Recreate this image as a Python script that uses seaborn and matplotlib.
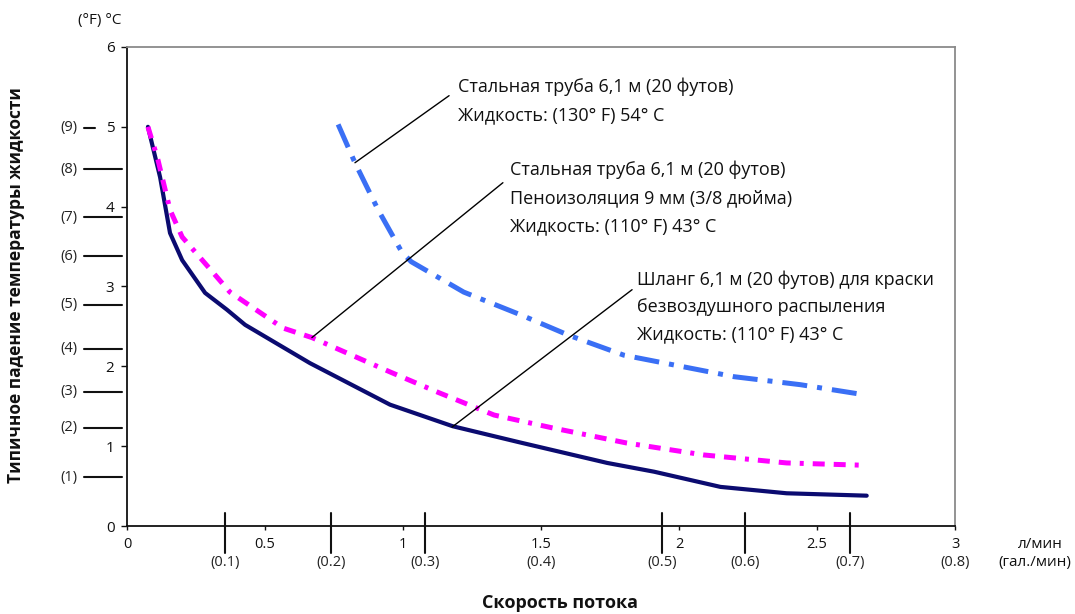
import numpy as np
import pandas as pd
import seaborn as sns
import matplotlib.pyplot as plt
import matplotlib.transforms as mtransforms

# flow in l/min, temperature drop in degC
hose_x = [0.076, 0.12, 0.156, 0.2, 0.283, 0.362, 0.428, 0.663, 0.953, 1.18, 1.42, 1.74, 1.91, 2.15, 2.39, 2.68]
hose_y = [5.0, 4.37, 3.67, 3.33, 2.92, 2.71, 2.52, 2.04, 1.52, 1.25, 1.05, 0.79, 0.68, 0.49, 0.41, 0.38]

foam_x = [0.076, 0.112, 0.156, 0.2, 0.293, 0.373, 0.565, 0.67, 0.953, 1.13, 1.33, 1.54, 1.81, 2.09, 2.39, 2.68]
foam_y = [5.0, 4.59, 3.96, 3.62, 3.25, 2.93, 2.48, 2.36, 1.93, 1.67, 1.39, 1.23, 1.04, 0.89, 0.79, 0.76]

pipe_x = [0.765, 0.826, 0.91, 0.996, 1.03, 1.22, 1.43, 1.6, 1.8, 2.2, 2.44, 2.66]
pipe_y = [5.03, 4.55, 3.96, 3.43, 3.31, 2.93, 2.64, 2.39, 2.14, 1.87, 1.77, 1.65]

lpm_ticks = [0, 0.5, 1, 1.5, 2, 2.5, 3]
lpm_labels = ['0', '0.5', '1', '1.5', '2', '2.5', '3']
c_ticks = [0, 1, 2, 3, 4, 5, 6]

# secondary scales (gal/min and degF) drawn as hand marks like the original
gal_pos = [0.355, 0.739, 1.08, 1.5, 1.94, 2.24, 2.62, 3.0]
gal_labels = ['(0.1)', '(0.2)', '(0.3)', '(0.4)', '(0.5)', '(0.6)', '(0.7)', '(0.8)']
gal_marked = [True, True, True, False, True, True, True, False]
f_pos = [0.61, 1.23, 1.68, 2.22, 2.77, 3.38, 3.87, 4.47, 4.99]
f_labels = ['(1)', '(2)', '(3)', '(4)', '(5)', '(6)', '(7)', '(8)', '(9)']

sns.set_style('white')
plt.rcParams['font.family'] = ['Open Sans', 'Noto Sans', 'DejaVu Sans']

fig = plt.figure(figsize=(10.75, 6.14), dpi=100)
ax = fig.add_axes([0.1181, 0.1433, 0.7703, 0.7802])

df_hose = pd.DataFrame({'x': hose_x, 'y': hose_y})
df_foam = pd.DataFrame({'x': foam_x, 'y': foam_y})
df_pipe = pd.DataFrame({'x': pipe_x, 'y': pipe_y})

sns.lineplot(data=df_hose, x='x', y='y', sort=False, estimator=None,
             color='#0b0b70', linewidth=3.0, ax=ax)
sns.lineplot(data=df_foam, x='x', y='y', sort=False, estimator=None,
             color='#ff00ff', linewidth=3.6, ax=ax)
ax.lines[-1].set_dashes([2.4, 1.8, 0.8, 1.8, 2.4, 1.8])
sns.lineplot(data=df_pipe, x='x', y='y', sort=False, estimator=None,
             color='#3a6ff5', linewidth=3.6, ax=ax)
ax.lines[-1].set_dashes([5.0, 2.0, 1.0, 2.0])

ax.set_xlim(0, 3)
ax.set_ylim(0, 6)
ax.set_xticks(lpm_ticks)
ax.set_xticklabels(lpm_labels)
ax.set_yticks(c_ticks)
ax.set_xlabel('')
ax.set_ylabel('')
ax.tick_params(axis='x', direction='out', length=3, width=1, pad=5, labelsize=10.5, colors='#111')
ax.tick_params(axis='y', direction='out', length=4, width=1, pad=5, labelsize=11, colors='#111')
ax.xaxis.set_ticks_position('bottom')
ax.yaxis.set_ticks_position('left')

for s in ['left', 'bottom']:
    ax.spines[s].set_color('#111')
    ax.spines[s].set_linewidth(1.3)
for s in ['top', 'right']:
    ax.spines[s].set_color('#8a8a8a')
    ax.spines[s].set_linewidth(1.3)

# gal/min marks on the x axis
tx = mtransforms.blended_transform_factory(ax.transData, ax.transAxes)
for p, lab, marked in zip(gal_pos, gal_labels, gal_marked):
    if marked:
        ax.plot([p, p], [0.027, -0.056], color='#111', lw=1.5, transform=tx, clip_on=False)
    ax.text(p, -0.077, lab, transform=tx, ha='center', va='center', fontsize=10.5, color='#222')

# degF marks on the y axis
ty = mtransforms.blended_transform_factory(ax.transAxes, ax.transData)
for p, lab in zip(f_pos, f_labels):
    x1 = -0.039 if lab == '(9)' else -0.006
    ax.plot([-0.052, x1], [p, p], color='#111', lw=1.5, transform=ty, clip_on=False)
    ax.text(-0.06, p, lab, transform=ty, ha='right', va='center', fontsize=10.5, color='#222')

# callouts
ax.plot([0.826, 1.167], [4.55, 5.39], color='black', lw=1)
ax.plot([0.670, 1.362], [2.36, 4.30], color='black', lw=1)
ax.plot([1.178, 1.83], [1.24, 2.96], color='black', lw=1)

note_kw = dict(ha='left', va='center', fontsize=13, color='#111')
ax.text(1.199, 5.50, 'Стальная труба 6,1 м (20 футов)', **note_kw)
ax.text(1.199, 5.15, 'Жидкость: (130° F) 54° C', **note_kw)
ax.text(1.388, 4.46, 'Стальная труба 6,1 м (20 футов)', **note_kw)
ax.text(1.388, 4.11, 'Пеноизоляция 9 мм (3/8 дюйма)', **note_kw)
ax.text(1.388, 3.76, 'Жидкость: (110° F) 43° C', **note_kw)
ax.text(1.848, 3.09, 'Шланг 6,1 м (20 футов) для краски', **note_kw)
ax.text(1.848, 2.74, 'безвоздушного распыления', **note_kw)
ax.text(1.848, 2.40, 'Жидкость: (110° F) 43° C', **note_kw)

# axis titles
fig.text(0.093, 0.967, '(°F) °C', ha='center', va='center', fontsize=11, color='#111')
fig.text(0.9675, 0.1124, 'л/мин', ha='center', va='center', fontsize=11, color='#111')
fig.text(0.9628, 0.0831, '(гал./мин)', ha='center', va='center', fontsize=11, color='#111')
fig.text(0.521, 0.018, 'Скорость потока', ha='center', va='center', fontsize=13,
         fontweight='bold', color='#111')
fig.text(0.0149, 0.536, 'Типичное падение температуры жидкости', ha='center', va='center',
         rotation=90, fontsize=12.5, fontweight='bold', color='#111')

fig.savefig('out.png', dpi=100)
